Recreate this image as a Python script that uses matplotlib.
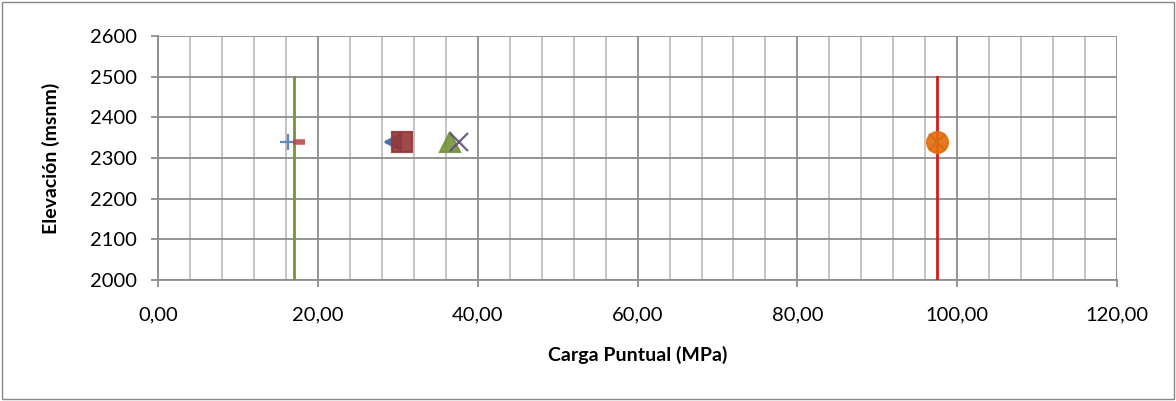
#!/usr/bin/env python3
"""Carga puntual vs elevación."""
import matplotlib.pyplot as plt
from matplotlib.patches import Rectangle
from matplotlib.ticker import MultipleLocator, FuncFormatter

plt.rcParams['font.family'] = ['Lato', 'DejaVu Sans']

# Ensayos de carga puntual (MPa) a la elevación de muestreo
elev_muestra = 2340
serie_x = [16.2, 17.6, 29.4, 30.5, 36.5, 37.6, 97.5, 97.5]
serie_marker = ['+', '_', '<', 's', '^', 'x', 'x', 'o']
serie_color = ['#4a7ebb', '#be4b48', '#3f6aa8', '#953735', '#76923c',
               '#604a7b', '#31859c', '#e46c0a']
serie_size = [12, 8, 12, 14, 14, 13, 12, 15]

# Líneas verticales (límites)
lim_min_x = 17.0
lim_max_x = 97.5
lim_y = [2000, 2500]


def plot_carga():
    fig = plt.figure(figsize=(11.76, 4.01), dpi=100)
    fig.patches.append(Rectangle((0.002, 0.004), 0.996, 0.992, transform=fig.transFigure,
                                 fill=False, edgecolor='#888888', linewidth=1))
    ax = fig.add_axes([0.1344, 0.3017, 0.8155, 0.6085])

    ax.plot([lim_min_x, lim_min_x], lim_y, color='#77933c', linewidth=2, zorder=3)
    ax.plot([lim_max_x, lim_max_x], lim_y, color='#d7191c', linewidth=2, zorder=3)

    for x, m, c, s in zip(serie_x, serie_marker, serie_color, serie_size):
        lw = 4 if m == '_' else 1.6
        ax.plot([x], [elev_muestra], marker=m, color=c, markersize=s,
                markeredgewidth=lw, linestyle='none', zorder=4, alpha=0.9)

    ax.set_xlim(0, 120)
    ax.set_ylim(2000, 2600)
    ax.xaxis.set_major_locator(MultipleLocator(20))
    ax.xaxis.set_minor_locator(MultipleLocator(4))
    ax.yaxis.set_major_locator(MultipleLocator(100))
    ax.xaxis.set_major_formatter(FuncFormatter(lambda v, p: f"{v:.2f}".replace('.', ',')))

    ax.grid(which='major', color='#8c8c8c', linewidth=1.3)
    ax.grid(which='minor', axis='x', color='#bfbfbf', linewidth=1.3)
    ax.set_axisbelow(True)
    for side in ['top', 'right']:
        ax.spines[side].set_visible(False)
    for side in ['left', 'bottom']:
        ax.spines[side].set_color('#8c8c8c')
        ax.spines[side].set_linewidth(1.3)
    ax.tick_params(which='major', length=5, width=1.3, color='#8c8c8c',
                   labelsize=14.5, direction='out')
    ax.tick_params(axis='x', pad=14)
    ax.tick_params(axis='y', pad=10)
    ax.tick_params(which='minor', length=0)

    ax.set_xlabel("Carga Puntual (MPa)", fontsize=14, fontweight='bold', labelpad=16)
    ax.set_ylabel("Elevación (msnm)", fontsize=14, fontweight='bold', labelpad=22)

    fig.savefig("out.png", dpi=100)


if __name__ == '__main__':
    plot_carga()
